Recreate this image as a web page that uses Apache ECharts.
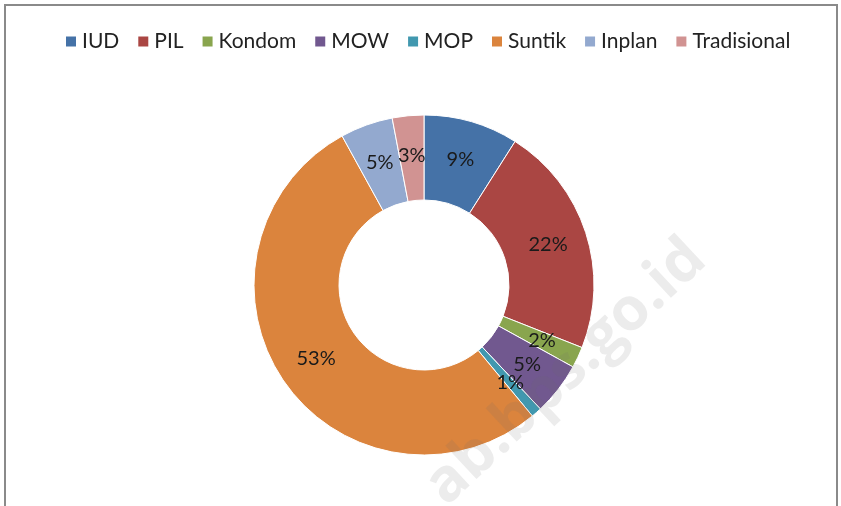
<!DOCTYPE html>
<html>
<head>
<meta charset="utf-8">
<script src="https://cdn.jsdelivr.net/npm/echarts@6/dist/echarts.min.js"></script>
<style>
  html, body { margin: 0; padding: 0; background: #fff; }
  #chart { width: 841px; height: 506px; }
</style>
</head>
<body>
<div id="chart"></div>
<script>
  // contraceptive method share (%)
  var categories = ['IUD', 'PIL', 'Kondom', 'MOW', 'MOP', 'Suntik', 'Inplan', 'Tradisional'];
  var values = [9, 22, 2, 5, 1, 53, 5, 3];
  var colors = ['#4572A7', '#AA4643', '#89A54E', '#71588F', '#4198AF', '#DB843D', '#93A9CF', '#D19392'];

  var seriesData = [];
  for (var i = 0; i < categories.length; i++) {
    seriesData.push({ name: categories[i], value: values[i] });
  }

  var chart = echarts.init(document.getElementById('chart'));
  chart.setOption({
    animation: false,
    color: colors,
    legend: {
      top: 26,
      left: 59,
      icon: 'rect',
      itemWidth: 12,
      itemHeight: 12,
      itemGap: 17,
      data: categories,
      textStyle: { fontFamily: 'Lato', fontSize: 21, color: '#222' }
    },
    graphic: [
      {
        type: 'rect',
        shape: { x: 5, y: 5, width: 832, height: 510 },
        style: { fill: 'none', stroke: '#8a8a8a', lineWidth: 2 },
        z: -1
      },
      {
        type: 'text',
        x: 697,
        y: 250,
        rotation: 43 * Math.PI / 180,
        style: {
          text: 'ab.bps.go.id',
          fontFamily: 'Open Sans',
          fontWeight: 'bold',
          fontSize: 60,
          fill: 'rgba(110,110,110,0.13)',
          align: 'right',
          verticalAlign: 'middle'
        },
        z: 100
      }
    ],
    series: [
      {
        type: 'pie',
        center: [424, 285],
        radius: [85, 170],
        startAngle: 90,
        clockwise: true,
        data: seriesData,
        itemStyle: { borderColor: '#fff', borderWidth: 1 },
        label: {
          show: true,
          position: 'inside',
          formatter: '{d}%',
          fontFamily: 'Lato',
          fontSize: 20,
          color: '#1a1a1a'
        },
        labelLayout: { hideOverlap: false },
        labelLine: { show: false },
        emphasis: { disabled: true }
      }
    ]
  });
</script>
</body>
</html>
